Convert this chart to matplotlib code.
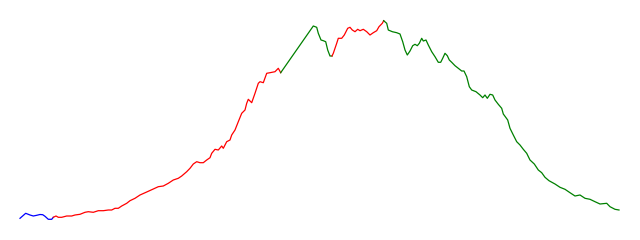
import matplotlib
matplotlib.use("Agg")
import matplotlib.pyplot as plt

# Segment 1 (blue)
x_blue = [20, 25.7, 30, 33.3, 36.7, 40, 42.7, 45, 48.3, 51.7, 53.3]
y_blue = [218.3, 213.3, 215, 216, 215.3, 214.5, 214.7, 216.3, 219.3, 219.3, 217.3]

# Segment 2 (red, rising)
x_red1 = [53.3, 56, 58.3, 61.7, 66.7, 71.7, 75, 80, 85, 88.3, 93.3, 98.3, 103.3, 108.3,
          111.7, 115, 118.3, 121.7, 126.7, 130, 135, 140, 146.7, 153.3, 158.3, 163.3,
          168.3, 173.3, 178.3, 181.7, 186.7, 190, 193.3, 196.7, 200, 203.3, 206.7, 210,
          211.7, 215, 218.3, 221.7, 223.3, 226.7, 230, 231.7, 235, 238.3, 241.7, 245,
          246.7, 248.3, 251.7, 255, 258.3, 260, 263.3, 266.7, 270, 275, 278.3, 280.7]
y_red1 = [217.3, 216, 217.3, 217.3, 216, 216, 215, 214.3, 212.3, 211.7, 212.3, 210.7, 210.7, 210,
          210, 208.3, 208.3, 206, 203.3, 200.7, 198.3, 195, 192, 189, 186.7, 186,
          183.3, 180, 178.3, 176, 171.7, 168.3, 164, 161.7, 162.7, 162.7, 160, 157.7,
          153.3, 149.3, 150, 146, 148.3, 141.7, 140, 135, 130, 121.7, 113.3, 110,
          103.3, 99.3, 102.7, 93.3, 83.3, 81.7, 82.7, 73.3, 72.7, 71.7, 68.3, 72.7]

# Segment 3 (green)
x_green1 = [280.7, 313.3, 316.7, 318.3, 321, 323.3, 325.7, 327.7, 330, 332]
y_green1 = [72.7, 26, 27.3, 33.3, 40, 40.7, 41.7, 50, 56, 56]

# Segment 4 (red)
x_red2 = [332, 333.3, 336.7, 338.3, 341.7, 344.3, 347.7, 350, 352.3, 355, 357.7, 360,
          363.3, 366.7, 370, 373.3, 376.7, 379, 382.3, 383.7]
y_red2 = [56, 53.3, 43.3, 38.3, 38.3, 35, 28.3, 27.3, 30, 31.7, 29.3, 30.7,
          29.3, 31.7, 35, 32.7, 30.7, 26.7, 23.3, 20.7]

# Segment 5 (green, falling)
x_green2 = [383.7, 386.7, 388.3, 392.3, 396.7, 400, 402.7, 405, 407.3, 410, 412.7, 415,
            417.3, 419.3, 421.7, 423.3, 426, 428.3, 431.7, 435, 438.3, 440.7, 442.7, 445,
            447.3, 449.3, 451.7, 455, 458.3, 461.7, 464, 466.7, 469.3, 471.7, 476, 480,
            482.7, 485, 487.3, 490, 492.7, 495, 498.3, 501.7, 503.3, 507.7, 510, 513.3,
            516.7, 520, 523.3, 526.7, 530, 534.3, 538.3, 541.7, 545, 549, 555, 560,
            565, 570, 575, 580, 585, 590, 595, 600, 606.7, 610, 615, 619]
y_green2 = [20.7, 23.3, 30, 31.7, 32.7, 34, 41.7, 50, 55, 51, 45.7, 44.3,
            45.7, 43.3, 38.3, 41, 40, 45, 51.7, 56.7, 62.3, 62.3, 58.3, 53.3,
            55.7, 60, 62.3, 65.7, 68.3, 71, 71, 76.7, 86.7, 90, 91.7, 95,
            97.7, 95, 98.3, 94.3, 95, 100, 104.3, 108.3, 114, 120, 128.3, 135,
            141.7, 145, 149.3, 153.3, 160, 164, 170, 172.7, 177.3, 180.7, 184, 187.3,
            189.3, 192.7, 196, 195, 198.3, 199.3, 201.7, 204, 203.3, 206.7, 209.3, 210]

fig = plt.figure(figsize=(6.4, 2.4), dpi=100)
ax = fig.add_axes([0, 0, 1, 1])
lw = 0.9
ax.plot(x_blue, y_blue, color="#0000ff", lw=lw)
ax.plot(x_red1, y_red1, color="#ff0000", lw=lw)
ax.plot(x_green1, y_green1, color="#008000", lw=lw)
ax.plot(x_red2, y_red2, color="#ff0000", lw=lw)
ax.plot(x_green2, y_green2, color="#008000", lw=lw)
ax.set_xlim(0, 640)
ax.set_ylim(240, 0)
ax.axis("off")
fig.savefig("out.png", dpi=100)
